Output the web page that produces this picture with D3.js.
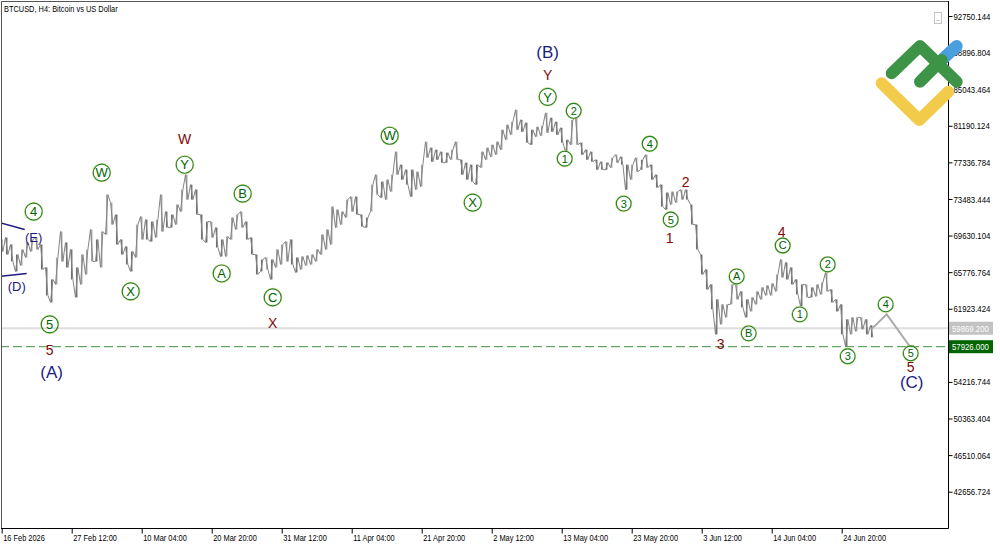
<!DOCTYPE html>
<html>
<head>
<meta charset="utf-8">
<script src="https://cdn.jsdelivr.net/npm/d3@7"></script>
<style>
  body { margin: 0; background: #fff; }
  svg { display: block; }
  .axis text { font-family: "Liberation Sans", Arial, sans-serif; font-size: 9.5px; fill: #000; }
</style>
</head>
<body>
<div id="main"></div>
<script>
// H4 bars, one sample every 5 bars (20 hours), starting 16 Feb 2026 00:00
let barStep = 5

let highs = [
  69212, 69422, 68686, 67636, 68161, 68897, 69212, 69422, 68686, 66270,
  65009, 67320, 70052, 68897, 68161, 66270, 67636, 68161, 70263, 69212,
  70052, 73940, 73100, 71839, 69212, 68476, 67951, 70788, 71629, 71313,
  71103, 71313, 73940, 72154, 71839, 72890, 74466, 76042, 74991, 74466,
  71839, 71103, 71103, 70473, 69212, 69527, 71524, 71839, 72154, 71103,
  69422, 67636, 67110, 67320, 67110, 68161, 68686, 69002, 69212, 67320,
  67425, 67531, 67636, 68161, 69737, 70263, 72679, 72364, 72154, 73415,
  73730, 73730, 71839, 71524, 74991, 76042, 75306, 75517, 76042, 78459,
  77093, 76567, 76567, 76357, 77093, 79510, 78879, 78669, 78459, 78354,
  78669, 79510, 77618, 77303, 77093, 77093, 78459, 78879, 79194, 79510,
  80771, 81296, 81611, 82872, 81821, 81506, 80771, 81086, 81191, 82557,
  82032, 81611, 80981, 79720, 81821, 82032, 79405, 78669, 78459, 77618,
  77408, 77303, 77828, 78144, 77933, 77093, 77093, 77828, 77618, 78144,
  77093, 76042, 74991, 74151, 74256, 74256, 74466, 74466, 72890, 70788,
  67636, 66059, 64483, 62907, 62382, 62382, 64483, 64483, 63748, 62907,
  63117, 63748, 64168, 64378, 64588, 65534, 67110, 66795, 66270, 65009,
  64483, 64483, 64168, 64483, 64693, 65744, 63958, 62907, 62382, 60805,
  61016, 61016, 61016, 60805, 60175
]
let lows = [
  67951, 67636, 66900, 65849, 66480, 67320, 67951, 68161, 66059, 63327,
  62592, 64483, 66900, 66270, 65009, 63117, 64483, 65534, 66900, 66900,
  66270, 69737, 70788, 68686, 67636, 66585, 65849, 67320, 69212, 69212,
  69002, 69422, 70052, 70473, 70473, 70788, 72154, 73415, 73415, 71839,
  69212, 68897, 69422, 68371, 67425, 67425, 69212, 70263, 70473, 69212,
  67636, 65534, 65849, 66059, 65009, 66270, 66585, 66900, 66585, 65744,
  66059, 66480, 66585, 66900, 67636, 68161, 68686, 70473, 70788, 71524,
  72154, 71839, 70578, 70473, 72154, 73940, 73625, 73415, 74256, 76042,
  75517, 74991, 73730, 74466, 74781, 77828, 77408, 77618, 77303, 77303,
  77618, 77618, 76042, 75517, 75306, 74991, 76778, 77618, 77933, 78144,
  78669, 79720, 80245, 80771, 80560, 79405, 79194, 80035, 80140, 80455,
  80560, 80245, 79405, 78459, 79194, 79194, 78144, 77618, 77408, 76567,
  76567, 76567, 76778, 77303, 77093, 74466, 75517, 76357, 76567, 76778,
  75517, 74676, 72679, 72364, 72890, 73100, 73415, 73415, 70788, 68161,
  65534, 63958, 61856, 59229, 60280, 61016, 62382, 62907, 62066, 61016,
  61646, 62382, 62907, 63327, 63327, 63748, 65219, 65009, 64483, 63432,
  62171, 63117, 63117, 63222, 63432, 63748, 62592, 61646, 59229, 57968,
  59229, 59544, 59755, 59229, 58914
]

// forecast path (bar index, price)
let forecastBars = [870, 885, 908]
let forecastPrices = [59800, 61330, 57970]

let bidPrice = 59869.2
let levelPrice = 57926.0

let priceTicks = [92750.144, 88896.804, 85043.464, 81190.124, 77336.784, 73483.444,
  69630.104, 65776.764, 61923.424, 54216.744, 50363.404, 46510.064, 42656.724]
let dateTickBars = [0, 70, 140, 210, 280, 350, 420, 490, 560, 630, 700, 770, 840]
let dateLabels = ["16 Feb 2026", "27 Feb 12:00", "10 Mar 04:00", "20 Mar 20:00", "31 Mar 12:00",
  "11 Apr 04:00", "21 Apr 20:00", "2 May 12:00", "13 May 04:00", "23 May 20:00",
  "3 Jun 12:00", "14 Jun 04:00", "24 Jun 20:00"]

// wave labels: [text, bar, price]
let circledBig = [
  ["4", 32, 72154], ["5", 48, 60280], ["W", 100, 76252], ["X", 129, 63748],
  ["Y", 183, 77093], ["A", 220, 65639], ["B", 241, 74045], ["C", 271, 63117],
  ["W", 388, 80140], ["X", 471, 73100], ["Y", 546, 84238]
]
let circledSmall = [
  ["1", 563, 77723], ["2", 572, 82767], ["3", 622, 72995], ["4", 648, 79299],
  ["5", 669, 71313], ["A", 735, 65324], ["B", 747, 59334], ["C", 781, 68581],
  ["1", 798, 61331], ["2", 826, 66585], ["3", 846, 56917], ["4", 884, 62382],
  ["5", 909, 57233]
]
let redLabels = [
  ["W", 183, 79825], ["X", 271, 60385], ["5", 48, 57548], ["Y", 546, 86550],
  ["1", 668, 69422], ["2", 684, 75306], ["3", 719, 58178], ["4", 780, 70052],
  ["5", 909, 55762]
]
let navyLabels = [
  ["(A)", 50, 55236, 17], ["(B)", 546, 88967, 17], ["(C)", 910, 54185, 17],
  ["(E)", 32, 69422, 13], ["(D)", 15, 64273, 13]
]
// triangle boundary lines: [[bar, price], [bar, price]]
let triangleLines = [
  [[-2, 70998], [23, 70263]],
  [[-2, 65324], [25, 65639]]
]

let width = 1000, height = 545
let plotRight = 948, plotBottom = 528

let x = d3.scaleLinear().domain([0, 946]).range([1.7, 947.7])
let y = d3.scaleLinear().domain([42656.724, 92750.144]).range([491.7, 16])

let svg = d3.select("#main").append("svg")
    .attr("width", width)
    .attr("height", height)

// squeeze text to the narrow terminal font widths
function condense(sel, k) {
    sel.each(function () {
        let w = this.getComputedTextLength()
        d3.select(this).attr("textLength", w * k).attr("lengthAdjust", "spacingAndGlyphs")
    })
}

svg.append("defs").append("clipPath").attr("id", "plotClip")
    .append("rect").attr("x", 1).attr("y", 1).attr("width", plotRight - 1).attr("height", plotBottom - 1)

let plot = svg.append("g").attr("clip-path", "url(#plotClip)")

// bid line and level line
plot.append("line")
    .attr("x1", 0).attr("x2", plotRight)
    .attr("y1", y(bidPrice)).attr("y2", y(bidPrice))
    .attr("stroke", "#dedede").attr("stroke-width", 2)

plot.append("line")
    .attr("x1", 0).attr("x2", plotRight)
    .attr("y1", y(levelPrice)).attr("y2", y(levelPrice))
    .attr("stroke", "#3f8f3f").attr("stroke-width", 1)
    .attr("stroke-dasharray", "9,4")

// price bars
let mid = i => (highs[i] + lows[i]) / 2
let bars = plot.append("g")
bars.selectAll("line")
    .data(highs)
    .join("line")
    .attr("x1", (d, i) => x(i * barStep))
    .attr("x2", (d, i) => x(i * barStep))
    .attr("y1", d => y(d))
    .attr("y2", (d, i) => y(lows[i]))
    .attr("stroke", (d, i) => (i > 0 && mid(i) > mid(i - 1)) ? "#a5a5a5" : "#6e6e6e")
    .attr("stroke-width", 1.5)

let pts = []
highs.forEach((h, i) => {
    let l = lows[i]
    let up = i < highs.length - 1 ? mid(i + 1) > mid(i) : false
    let bx = x(i * barStep)
    pts.push([bx - 1.2, y(up ? l : h)])
    pts.push([bx + 1.2, y(up ? h : l)])
})
bars.append("path")
    .attr("d", d3.line()(pts))
    .attr("fill", "none")
    .attr("stroke", "#858585")
    .attr("stroke-width", 1)

// forecast
plot.append("path")
    .attr("d", d3.line()(forecastBars.map((b, i) => [x(b), y(forecastPrices[i])])))
    .attr("fill", "none")
    .attr("stroke", "#ababab")
    .attr("stroke-width", 2)

// triangle lines
triangleLines.forEach(seg => {
    plot.append("line")
        .attr("x1", x(seg[0][0])).attr("y1", y(seg[0][1]))
        .attr("x2", x(seg[1][0])).attr("y2", y(seg[1][1]))
        .attr("stroke", "#1c1c82").attr("stroke-width", 1.4)
})

// labels
let labelFont = "'Liberation Sans', Arial, sans-serif"

function circled(list, r, fs) {
    let g = plot.append("g").selectAll("g")
        .data(list)
        .join("g")
        .attr("transform", d => "translate(" + x(d[1]) + "," + y(d[2]) + ")")
    g.append("circle").attr("r", r + 0.7).attr("fill", "none")
        .attr("stroke", "#d7d27a").attr("stroke-width", 0.8)
    g.append("circle").attr("r", r).attr("fill", "none")
        .attr("stroke", "#1f851f").attr("stroke-width", 1.1)
    g.append("text")
        .attr("text-anchor", "middle")
        .attr("dy", "0.36em")
        .attr("font-family", labelFont)
        .attr("font-size", fs)
        .attr("fill", "#006400")
        .text(d => d[0])
}
circled(circledBig, 8.5, 13)
circled(circledSmall, 7.4, 11)

plot.append("g").selectAll("text")
    .data(redLabels)
    .join("text")
    .attr("x", d => x(d[1]))
    .attr("y", d => y(d[2]))
    .attr("text-anchor", "middle")
    .attr("dy", "0.36em")
    .attr("font-family", labelFont)
    .attr("font-size", 14)
    .attr("fill", "#840a0a")
    .text(d => d[0])

plot.append("g").selectAll("text")
    .data(navyLabels)
    .join("text")
    .attr("x", d => x(d[1]))
    .attr("y", d => y(d[2]))
    .attr("text-anchor", "middle")
    .attr("dy", "0.36em")
    .attr("font-family", labelFont)
    .attr("font-size", d => d[3])
    .attr("fill", "#1c1c82")
    .text(d => d[0])

// frame
svg.append("path")
    .attr("d", "M1.5," + plotBottom + "V1.5H" + plotRight)
    .attr("fill", "none").attr("stroke", "#555")
svg.append("path")
    .attr("d", "M1," + (plotBottom + 0.5) + "H" + (plotRight + 0.5) + "V1")
    .attr("fill", "none").attr("stroke", "#000")

// axes
let yAxis = svg.append("g")
    .attr("class", "axis")
    .attr("transform", "translate(" + (plotRight + 0.5) + ",0)")
    .call(d3.axisRight(y).tickValues(priceTicks).tickFormat(d3.format(".3f")).tickSize(4).tickSizeOuter(0).tickPadding(1))
yAxis.select(".domain").remove()
yAxis.selectAll(".tick line").attr("stroke", "#000")
condense(yAxis.selectAll(".tick text"), 0.82)

let xAxis = svg.append("g")
    .attr("class", "axis")
    .attr("transform", "translate(0," + (plotBottom + 0.5) + ")")
    .call(d3.axisBottom(x).tickValues(dateTickBars).tickFormat((d, i) => dateLabels[i]).tickSize(5).tickSizeOuter(0).tickPadding(1))
xAxis.select(".domain").remove()
xAxis.selectAll(".tick line").attr("stroke", "#000")
xAxis.selectAll(".tick text").attr("text-anchor", "start").attr("dx", 1)
condense(xAxis.selectAll(".tick text"), 0.78)

// price tags
function tag(price, fill) {
    let g = svg.append("g").attr("transform", "translate(" + (plotRight + 1) + "," + y(price) + ")")
    g.append("rect").attr("x", 0).attr("y", -6.5).attr("width", 44).attr("height", 13).attr("fill", fill)
    g.append("text").attr("x", 3).attr("dy", "0.35em")
        .attr("font-family", labelFont)
        .attr("font-size", 9.5).attr("fill", "#fff")
        .text(d3.format(".3f")(price))
        .call(condense, 0.82)
}
tag(bidPrice, "#c2c2c2")
tag(levelPrice, "#006400")

// title
svg.append("text")
    .attr("x", 4).attr("y", 12)
    .attr("font-family", labelFont)
    .attr("font-size", 9.5)
    .text("BTCUSD, H4:  Bitcoin vs US Dollar")
    .call(condense, 0.78)

// small toggle box
svg.append("rect").attr("x", 934.5).attr("y", 12.5).attr("width", 7).attr("height", 11)
    .attr("fill", "#fff").attr("stroke", "#c4c4c4")
svg.append("line").attr("x1", 936.5).attr("x2", 939.5).attr("y1", 20.5).attr("y2", 20.5)
    .attr("stroke", "#c4c4c4")

// logo
let logo = svg.append("g").attr("fill", "none").attr("stroke-linecap", "round").attr("stroke-linejoin", "round").attr("stroke-width", 12)
logo.append("path").attr("d", "M941.7,60L956.7,46").attr("stroke", "#4a9fde")
logo.append("path").attr("d", "M881.7,83.3L919.3,120L948.3,91.7").attr("stroke", "#f2cb4a")
logo.append("path").attr("d", "M891.7,73.3L920,46L956.7,81.7M920,81.7L941.7,60").attr("stroke", "#3d9446")
</script>
</body>
</html>
